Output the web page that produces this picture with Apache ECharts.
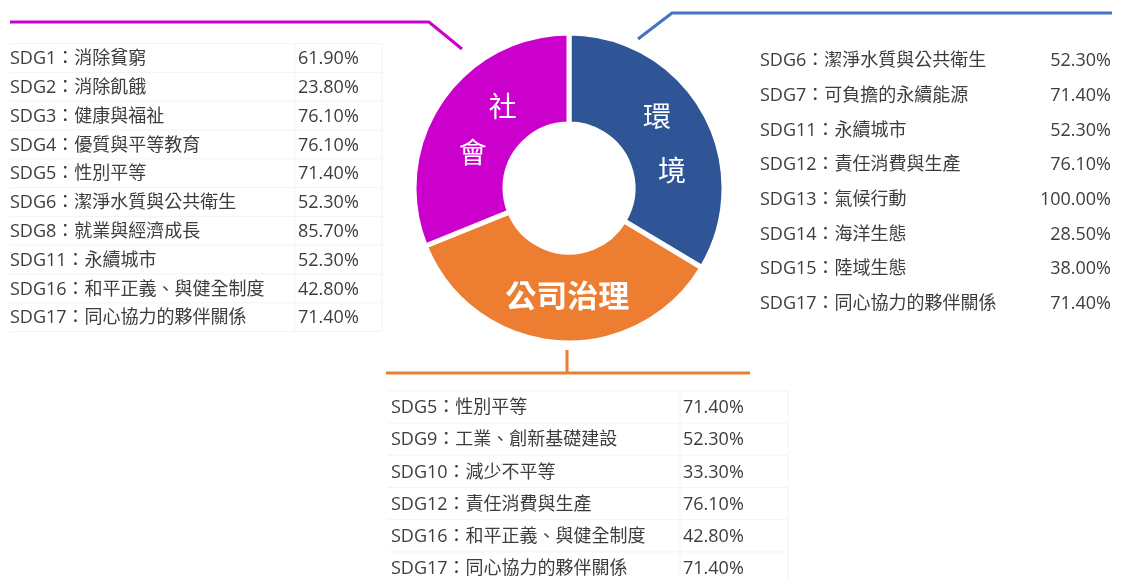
<!DOCTYPE html>
<html>
<head>
<meta charset="utf-8">
<script src="https://cdn.jsdelivr.net/npm/echarts@6/dist/echarts.min.js"></script>
<style>
  html, body { margin: 0; padding: 0; background: #ffffff; }
  #chart { width: 1127px; height: 579px; }
</style>
</head>
<body>
<div id="chart"></div>
<script>
  var pillarNames = ["環境", "公司治理", "社會"];
  var pillarShares = [33.6, 35.3, 31.1];
  var pillarColors = ["#2F5597", "#ED7D31", "#CC00CC"];

  var socialGoals = ["SDG1：消除貧窮", "SDG2：消除飢餓", "SDG3：健康與福祉", "SDG4：優質與平等教育", "SDG5：性別平等", "SDG6：潔淨水質與公共衛生", "SDG8：就業與經濟成長", "SDG11：永續城市", "SDG16：和平正義、與健全制度", "SDG17：同心協力的夥伴關係"];
  var socialRates = ["61.90%", "23.80%", "76.10%", "76.10%", "71.40%", "52.30%", "85.70%", "52.30%", "42.80%", "71.40%"];

  var envGoals = ["SDG6：潔淨水質與公共衛生", "SDG7：可負擔的永續能源", "SDG11：永續城市", "SDG12：責任消費與生產", "SDG13：氣候行動", "SDG14：海洋生態", "SDG15：陸域生態", "SDG17：同心協力的夥伴關係"];
  var envRates = ["52.30%", "71.40%", "52.30%", "76.10%", "100.00%", "28.50%", "38.00%", "71.40%"];

  var govGoals = ["SDG5：性別平等", "SDG9：工業、創新基礎建設", "SDG10：減少不平等", "SDG12：責任消費與生產", "SDG16：和平正義、與健全制度", "SDG17：同心協力的夥伴關係"];
  var govRates = ["71.40%", "52.30%", "33.30%", "76.10%", "42.80%", "71.40%"];

  var font = "'Noto Sans CJK TC', 'Noto Sans', sans-serif";
  var tableFont = "18px 'Open Sans', 'Noto Sans CJK TC', sans-serif";
  var textColor = "#3d3d3d";
  var gridColor = "#f3f3f3";

  function buildTable(goals, rates, opts) {
    var items = [];
    goals.forEach(function (goal, i) {
      var y = opts.top + i * opts.step;
      items.push({
        type: "text",
        left: opts.textX,
        top: y - 8,
        style: { text: goal, font: tableFont, fill: textColor }
      });
      if (opts.alignRight) {
        items.push({
          type: "text",
          right: 1127 - opts.valueX,
          top: y - 8,
          style: { text: rates[i], font: tableFont, fill: textColor }
        });
      } else {
        items.push({
          type: "text",
          left: opts.valueX,
          top: y - 8,
          style: { text: rates[i], font: tableFont, fill: textColor }
        });
      }
      if (opts.grid) {
        items.push({
          type: "line",
          shape: { x1: opts.gridLeft, y1: y + opts.step / 2, x2: opts.gridRight, y2: y + opts.step / 2 },
          style: { stroke: gridColor, lineWidth: 1 },
          z: -1
        });
      }
    });
    if (opts.grid) {
      var y0 = opts.top - opts.step / 2;
      var y1 = opts.top + (goals.length - 0.5) * opts.step;
      items.push({
        type: "line",
        shape: { x1: opts.gridLeft, y1: y0, x2: opts.gridRight, y2: y0 },
        style: { stroke: gridColor, lineWidth: 1 },
        z: -1
      });
      items.push({
        type: "line",
        shape: { x1: opts.colX, y1: y0, x2: opts.colX, y2: y1 },
        style: { stroke: gridColor, lineWidth: 1 },
        z: -1
      });
      items.push({
        type: "line",
        shape: { x1: opts.gridRight, y1: y0, x2: opts.gridRight, y2: y1 },
        style: { stroke: gridColor, lineWidth: 1 },
        z: -1
      });
    }
    return items;
  }

  var connectors = [
    {
      type: "polyline",
      shape: { points: [[10, 22], [429, 22], [462, 49]] },
      style: { stroke: "#CC00CC", lineWidth: 3, fill: null }
    },
    {
      type: "polyline",
      shape: { points: [[638, 39], [672, 13], [1112, 13]] },
      style: { stroke: "#4472C4", lineWidth: 3, fill: null }
    },
    {
      type: "line",
      shape: { x1: 567, y1: 350, x2: 567, y2: 373 },
      style: { stroke: "#ED7D31", lineWidth: 3 }
    },
    {
      type: "line",
      shape: { x1: 386, y1: 373, x2: 750, y2: 373 },
      style: { stroke: "#ED7D31", lineWidth: 3 }
    }
  ];

  var graphics = connectors
    .concat(buildTable(socialGoals, socialRates, {
      top: 58, step: 28.8, textX: 10, valueX: 298, grid: true,
      gridLeft: 10, gridRight: 382, colX: 295
    }))
    .concat(buildTable(envGoals, envRates, {
      top: 60, step: 34.7, textX: 760, valueX: 1111, alignRight: true
    }))
    .concat(buildTable(govGoals, govRates, {
      top: 407, step: 32.2, textX: 391, valueX: 683, grid: true,
      gridLeft: 388, gridRight: 788, colX: 680
    }));

  var labelText = {
    "環境": "{e1|環}\n{e2|境}",
    "公司治理": "{g|公司治理}",
    "社會": "{s1|社}\n{s2|會}"
  };
  var labelPadding = {
    "環境": [22, 0, 0, 0],
    "公司治理": [0, 0, 0, 0],
    "社會": [8, 0, 0, 0]
  };

  var chart = echarts.init(document.getElementById("chart"), null, { renderer: "canvas" });

  chart.setOption({
    animation: false,
    backgroundColor: "#ffffff",
    series: [
      {
        type: "pie",
        center: [569, 188],
        radius: [64, 155],
        startAngle: 90,
        clockwise: true,
        avoidLabelOverlap: false,
        itemStyle: { borderColor: "#ffffff", borderWidth: 5 },
        label: {
          show: true,
          position: "inside",
          color: "#ffffff",
          fontFamily: font,
          formatter: function (p) {
            return labelText[p.name];
          },
          rich: {
            e1: { fontSize: 28, color: "#fff", fontFamily: font, lineHeight: 54, padding: [0, 20, 0, 0] },
            e2: { fontSize: 28, color: "#fff", fontFamily: font, lineHeight: 54, padding: [0, 0, 0, 10] },
            s1: { fontSize: 28, color: "#fff", fontFamily: font, lineHeight: 46, padding: [0, 0, 0, 54] },
            s2: { fontSize: 28, color: "#fff", fontFamily: font, lineHeight: 46, padding: [0, 6, 0, 0] },
            g: { fontSize: 31, color: "#fff", fontFamily: font, fontWeight: "bold", padding: [0, 0, 10, 14] }
          }
        },
        labelLine: { show: false },
        data: pillarNames.map(function (name, i) {
          return {
            name: name,
            value: pillarShares[i],
            itemStyle: { color: pillarColors[i] },
            label: { padding: labelPadding[name] }
          };
        })
      }
    ],
    graphic: graphics
  });
</script>
</body>
</html>
